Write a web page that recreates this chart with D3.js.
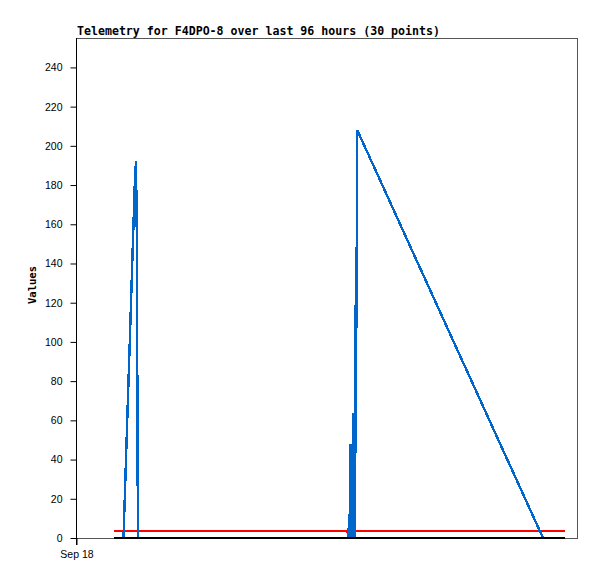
<!DOCTYPE html>
<html>
<head>
<meta charset="utf-8">
<script src="https://cdn.jsdelivr.net/npm/d3@7"></script>
<style>
  html, body { margin: 0; padding: 0; background: #fff; }
  svg { display: block; }
</style>
</head>
<body>
<svg id="chart" width="597" height="579"></svg>
<script>
// ---- data (hours after Sep 18 00:00, value) ----
const titleText = "Telemetry for F4DPO-8 over last 96 hours (30 points)";
const yLabel = "Values";
const xTickLabels = ["Sep 18"];
const xTickHours = [0];
const yTicks = [0, 20, 40, 60, 80, 100, 120, 140, 160, 180, 200, 220, 240];

const blueHours = [7.28, 9.10, 9.20, 9.39, 9.58, 9.77, 9.96, 10.16, 10.35, 10.54, 10.73, 10.92, 11.11, 11.31, 11.50, 11.69, 11.78, 11.88,
                   52.22, 52.31, 52.47, 52.60, 52.73, 52.98, 53.08, 53.21, 53.34, 53.48, 53.61, 53.71, 53.90, 89.49, 93.70];
const blueValues = [0, 0, 8, 24, 40, 56, 72, 88, 104, 120, 136, 152, 168, 184, 192, 145, 48, 0,
                    0, 12, 0, 48, 0, 0, 64, 0, 64, 0, 128, 104, 208, 0, 0];

const redHours = [7.28, 51.74, 52.12, 52.41, 93.70];
const redValues = [3.6, 3.6, 2.6, 3.6, 3.6];

const blackHours = [7.28, 93.70];
const blackValues = [0, 0];

// ---- layout ----
const svg = d3.select("#chart");
const mLeft = 76, mRight = 577, mTop = 38, mBottom = 538;
const t0 = new Date(2023, 8, 18, 0, 0, 0);
const hr = h => new Date(t0.getTime() + h * 3600 * 1000);

const x = d3.scaleTime().domain([hr(0), hr(96)]).range([mLeft, mRight]);
const y = d3.scaleLinear().domain([0, 255]).range([mBottom, mTop]);

svg.append("rect").attr("width", 597).attr("height", 579).attr("fill", "#fff");

// frame
svg.append("rect")
  .attr("x", mLeft + 0.5).attr("y", mTop + 0.5)
  .attr("width", mRight - mLeft).attr("height", mBottom - mTop)
  .attr("fill", "none").attr("stroke", "#555").attr("stroke-width", 1);

// title
svg.append("text")
  .attr("x", 77).attr("y", 35)
  .attr("font-family", "'DejaVu Sans Mono', monospace")
  .attr("font-weight", "bold").attr("font-size", "11.6px")
  .attr("fill", "#000")
  .text(titleText);

// y label
svg.append("text")
  .attr("transform", "translate(36,285) rotate(-90)")
  .attr("text-anchor", "middle")
  .attr("font-family", "'DejaVu Sans Mono', monospace")
  .attr("font-weight", "bold").attr("font-size", "10.5px")
  .attr("fill", "#000")
  .text(yLabel);

// y axis
const yAxis = d3.axisLeft(y).tickValues(yTicks).tickSize(6).tickPadding(8).tickSizeOuter(0);
const gy = svg.append("g").attr("transform", `translate(${mLeft + 0.5},0)`).call(yAxis);
gy.select(".domain").remove();
gy.selectAll("text").attr("font-family", "'Liberation Sans', Arial, sans-serif").attr("font-size", "10.5px").attr("fill", "#000");
gy.selectAll("line").attr("stroke", "#000");

// x axis
const xAxis = d3.axisBottom(x).tickValues(xTickHours.map(hr)).tickFormat((d, i) => xTickLabels[i]).tickSize(7).tickPadding(6).tickSizeOuter(0);
const gx = svg.append("g").attr("transform", `translate(0.5,${mBottom})`).call(xAxis);
gx.select(".domain").remove();
gx.selectAll("text").attr("font-family", "'Liberation Sans', Arial, sans-serif").attr("font-size", "10.5px").attr("fill", "#000");
gx.selectAll("line").attr("stroke", "#000");

// left axis line
svg.append("line")
  .attr("x1", mLeft + 0.5).attr("x2", mLeft + 0.5)
  .attr("y1", mTop).attr("y2", mBottom + 7)
  .attr("stroke", "#000");

const line = d3.line().x(d => x(hr(d[0]))).y(d => y(d[1]));

function series(hours, values, color, w) {
  svg.append("path")
    .datum(hours.map((h, i) => [h, values[i]]))
    .attr("d", line)
    .attr("fill", "none")
    .attr("stroke", color)
    .attr("stroke-width", w)
    .attr("shape-rendering", "crispEdges")
    .attr("stroke-linejoin", "miter");
}

series(redHours, redValues, "#ff0000", 2.6);
series(blueHours, blueValues, "#0066cc", 2.4);
series(blackHours, blackValues, "#000000", 2.4);
</script>
</body>
</html>
